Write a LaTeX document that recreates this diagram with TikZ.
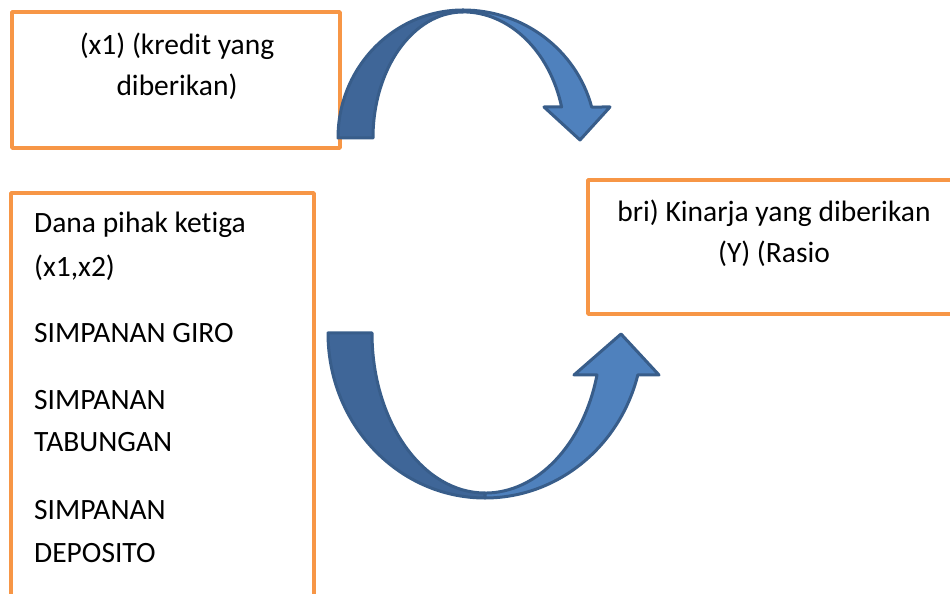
\documentclass[tikz,border=0pt]{standalone}
\usepackage{fontspec}
\setmainfont{Carlito}[Ligatures=NoCommon]
\definecolor{boxorange}{HTML}{F79646}
\definecolor{arrowdark}{HTML}{3F6698}
\definecolor{arrowlight}{HTML}{4F81BD}
\definecolor{arrowline}{HTML}{385D8A}
\begin{document}
\begin{tikzpicture}[line join=round,
  box/.style={draw=boxorange,line width=3.5bp,inner sep=0pt},
  lbl/.style={inner sep=0pt,anchor=base,font=\fontsize{29.5bp}{42bp}\selectfont},
  lblw/.style={lbl,anchor=base west},
  darkpart/.style={fill=arrowdark,draw=arrowline,line width=3bp},
  litepart/.style={fill=arrowlight,draw=arrowline,line width=3bp},]
\useasboundingbox (0bp,0bp) rectangle (950bp,594bp);
%%
\node (box_kredit) at (176bp,514bp) [box,minimum width=328bp,minimum height=136bp] {};
  \node (box_dana) at (162.5bp,188bp) [box,minimum width=303bp,minimum height=426bp] {};
  \node (box_kinerja) at (776.5bp,347bp) [box,minimum width=377bp,minimum height=134bp] {};
%% upper arrow
\draw [darkpart] (338bp,456bp) arc[start angle=180,end angle=90,x radius=125bp,y radius=128bp]
    -- (463bp,582bp) arc[start angle=90,end angle=180,x radius=90bp,y radius=126bp] -- cycle;
  \draw [litepart] (463bp,584bp) arc[start angle=90,end angle=14.7,x radius=133bp,y radius=130bp]
    -- (610bp,487bp) -- (580bp,454bp) -- (544bp,487bp)
    -- (561.6bp,487bp) arc[start angle=14.9,end angle=90,x radius=102bp,y radius=128bp] -- cycle;
%% lower arrow
\draw [darkpart] (328bp,261bp) arc[start angle=180,end angle=270,x radius=157bp,y radius=165bp]
    -- (485bp,101bp) arc[start angle=270,end angle=180,x radius=113bp,y radius=160bp] -- cycle;
  \draw [litepart] (485bp,96bp) arc[start angle=270,end angle=345.3,x radius=158bp,y radius=165bp]
    -- (659bp,219bp) -- (621bp,260bp) -- (574bp,219bp)
    -- (597bp,219bp) arc[start angle=344.8,end angle=270,x radius=116bp,y radius=160bp] -- cycle;
%% texts
\node (kredit_1) at (177bp,539bp) [lbl] {(x1) (kredit yang};
  \node (kredit_2) at (177bp,498bp) [lbl] {diberikan)};
  \node (kinerja_1) at (774bp,372bp) [lbl] {bri) Kinarja yang diberikan};
  \node (kinerja_2) at (774bp,331bp) [lbl] {(Y) (Rasio};
  \node (dana_1) at (34bp,361bp) [lblw] {Dana pihak ketiga};
  \node (dana_2) at (34bp,317bp) [lblw] {(x1,x2)};
  \node (giro) at (34bp,251bp) [lblw] {SIMPANAN GIRO};
  \node (tabungan_1) at (34bp,184bp) [lblw] {SIMPANAN};
  \node (tabungan_2) at (34bp,142bp) [lblw] {TABUNGAN};
  \node (deposito_1) at (34bp,74bp) [lblw] {SIMPANAN};
  \node (deposito_2) at (34bp,32bp) [lblw] {DEPOSITO};
%
\end{tikzpicture}
\end{document}
